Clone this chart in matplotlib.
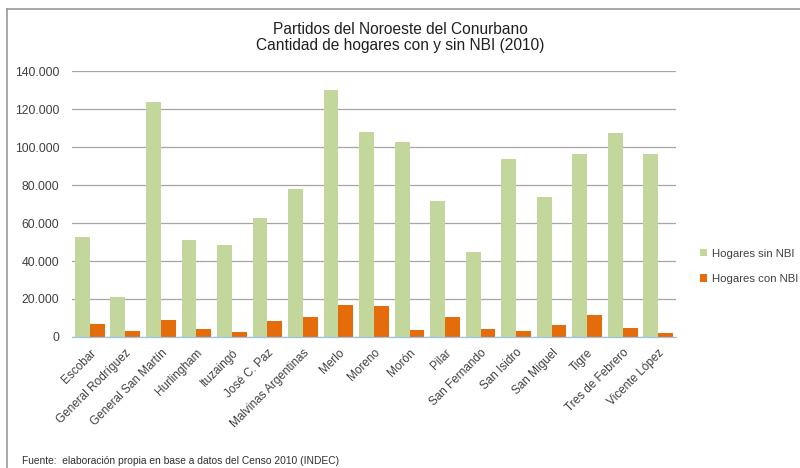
import matplotlib
matplotlib.use("Agg")
import matplotlib.pyplot as plt
from matplotlib.lines import Line2D
from matplotlib.patches import Patch
from matplotlib.ticker import FuncFormatter, MultipleLocator
import numpy as np

plt.rcParams['font.family'] = ['Liberation Sans', 'DejaVu Sans']

partidos = ["Escobar", "General Rodríguez", "General San Martín", "Hurlingham",
            "Ituzaingó", "José C. Paz", "Malvinas Argentinas", "Merlo", "Moreno",
            "Morón", "Pilar", "San Fernando", "San Isidro", "San Miguel", "Tigre",
            "Tres de Febrero", "Vicente López"]
sin_nbi = [52800, 21200, 123800, 51000, 48400, 62800, 78000, 130200, 107700,
           102800, 71700, 44900, 93500, 73800, 96100, 107500, 96300]
con_nbi = [6800, 3300, 8900, 4000, 2500, 8400, 10700, 16800, 16100,
           3800, 10500, 4200, 3300, 6300, 11700, 4600, 2100]
series_names = ["Hogares sin NBI", "Hogares con NBI"]
y_max = 140000
y_step = 20000
titulo = "Partidos del Noroeste del Conurbano\nCantidad de hogares con y sin NBI (2010)"
fuente = "Fuente:  elaboración propia en base a datos del Censo 2010 (INDEC)"

green = "#C3D69B"
orange = "#E46C0A"
text_col = "#404040"

fig = plt.figure(figsize=(8, 4.68), dpi=100)
ax = fig.add_axes([0.09, 0.28, 0.755, 0.568])

x = np.arange(len(partidos))
w = 1 / 2.4
ax.bar(x - w / 2, sin_nbi, width=w, color=green, zorder=2, label=series_names[0])
ax.bar(x + w / 2, con_nbi, width=w, color=orange, zorder=2, label=series_names[1])

ax.set_xlim(-0.5, len(partidos) - 0.5)
ax.set_ylim(0, y_max)
ax.yaxis.set_major_locator(MultipleLocator(y_step))
ax.yaxis.set_major_formatter(FuncFormatter(lambda v, p: f"{int(v):,}".replace(",", ".")))
ax.grid(axis='y', color="#A6A6A6", linewidth=0.9, zorder=0)
for s in ["top", "right", "left"]:
    ax.spines[s].set_visible(False)
ax.spines["bottom"].set_color("#9DC3E6")
ax.spines["bottom"].set_linewidth(0.9)
ax.tick_params(axis='y', length=0, labelsize=8.8, labelcolor=text_col, pad=9)
ax.tick_params(axis='x', length=0, labelsize=8.5, labelcolor=text_col, pad=7)
ax.set_xticks(x)
ax.set_xticklabels(partidos, rotation=45, ha='right', va='top', rotation_mode='anchor')

fig.text(0.5, 0.92, titulo, ha='center', va='center', fontsize=11.2,
         color="#202020", linespacing=1.1)

handles = [Patch(facecolor=green, label=series_names[0]),
           Patch(facecolor=orange, label=series_names[1])]
fig.legend(handles=handles, loc='center left', bbox_to_anchor=(0.862, 0.431),
           frameon=False, fontsize=8.2, handlelength=0.65, handleheight=0.65,
           handletextpad=0.4, labelspacing=1.35, labelcolor=text_col)

fig.text(0.0275, 0.015, fuente, fontsize=7.4, color="#303030", ha='left', va='center')

# chart frame (top and left edges)
fig.add_artist(Line2D([7 / 800, 1.0], [1 - 9 / 468, 1 - 9 / 468],
                      transform=fig.transFigure, color="#9A9A9A", linewidth=1.2))
fig.add_artist(Line2D([7 / 800, 7 / 800], [0, 1 - 9 / 468],
                      transform=fig.transFigure, color="#9A9A9A", linewidth=1.2))

fig.savefig("out.png", dpi=100)
